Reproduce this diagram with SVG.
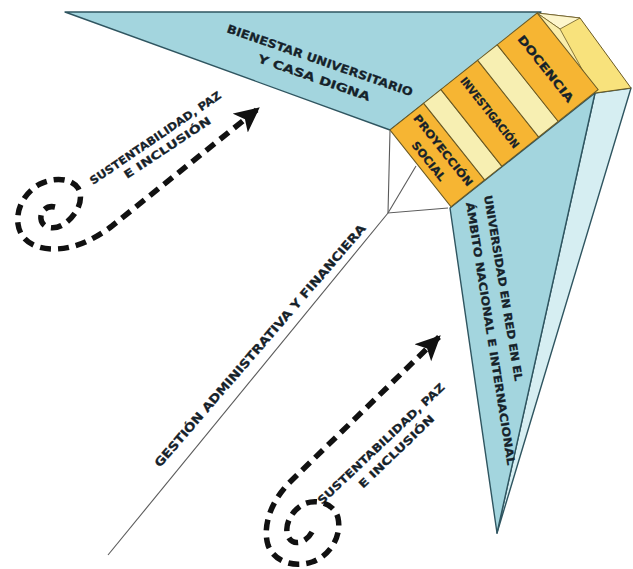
<svg xmlns="http://www.w3.org/2000/svg" width="633" height="569" viewBox="0 0 633 569">
<defs>
<style>
.lbl{font-family:"DejaVu Sans","Liberation Sans",sans-serif;font-weight:bold;fill:#16222a;stroke:#16222a;stroke-width:0.25;}
.blue{fill:#a3d5de;stroke:#2f5560;stroke-width:1.4;stroke-linejoin:round;}
.lblue{fill:#d6eef2;stroke:#2f5560;stroke-width:1.4;stroke-linejoin:round;}
.orange{fill:#f6b533;stroke:#6b5a24;stroke-width:1;}
.pale{fill:#f7efb2;stroke:#6b5a24;stroke-width:1;}
.thin{fill:none;stroke:#5a5a5a;stroke-width:1.1;}
.dash{fill:none;stroke:#111;stroke-width:5.5;stroke-dasharray:11 7;}
</style>
<marker id="ah" markerUnits="userSpaceOnUse" markerWidth="26" markerHeight="26" viewBox="0 0 26 26" refX="24" refY="13" orient="auto">
<path d="M0,1 L25,13 L0,25 L6,13 z" fill="#111"/>
</marker>
</defs>

<g id="bienestar">
<polygon class="blue" points="65,12 541,12 390,130"/>
<text class="lbl" font-size="11.5" transform="translate(226,32) rotate(19.2)" textLength="196" lengthAdjust="spacingAndGlyphs">BIENESTAR UNIVERSITARIO</text>
<text class="lbl" font-size="11.5" transform="translate(257,62) rotate(19.3)" textLength="118" lengthAdjust="spacingAndGlyphs">Y CASA DIGNA</text>
</g>

<g id="universidad-red">
<polygon class="lblue" points="595,93 631,88 497,533"/>
<polygon class="blue" points="450,208 595,93 497,533"/>
<text class="lbl" font-size="11" transform="translate(484,196) rotate(80.5)" textLength="188" lengthAdjust="spacingAndGlyphs">UNIVERSIDAD EN RED EN EL</text>
<text class="lbl" font-size="11" transform="translate(466,203) rotate(81)" textLength="266" lengthAdjust="spacingAndGlyphs">ÁMBITO NACIONAL E INTERNACIONAL</text>
</g>

<g id="gestion">
<polyline class="thin" points="390,131 388,213 448,208"/>
<line class="thin" x1="416" y1="166" x2="388" y2="213"/>
<line class="thin" x1="388" y1="213" x2="108" y2="555"/>
<text class="lbl" font-size="12" transform="translate(160,468) rotate(-49.2)" textLength="316" lengthAdjust="spacingAndGlyphs">GESTIÓN ADMINISTRATIVA Y FINANCIERA</text>
</g>

<g id="band-end">
<polygon points="537,13 580,18 631,88 595,93" fill="#f8e27c" stroke="#6b5a24" stroke-width="1"/>
<polygon points="537,13 580,18 560,29" fill="#fdf6cc" stroke="#6b5a24" stroke-width="0.8"/>
<polygon points="537,13 560,29 595,93" fill="#faeeaa" stroke="#6b5a24" stroke-width="0.8"/>
</g>

<g transform="translate(390,130) rotate(-38.5)">
<g id="proyeccion">
<rect class="orange" x="0" y="0" width="43" height="98"/>
<text class="lbl" font-size="11" transform="translate(25,5) rotate(90)" textLength="88" lengthAdjust="spacingAndGlyphs">PROYECCIÓN</text>
<text class="lbl" font-size="11" transform="translate(7,25) rotate(90)" textLength="47" lengthAdjust="spacingAndGlyphs">SOCIAL</text>
</g>
<rect class="pale" x="43" y="0" width="22" height="98"/>
<g id="investigacion">
<rect class="orange" x="65" y="0" width="47" height="98"/>
<text class="lbl" font-size="11" transform="translate(85,5) rotate(90)" textLength="87" lengthAdjust="spacingAndGlyphs">INVESTIGACIÓN</text>
</g>
<rect class="pale" x="112" y="0" width="25" height="98"/>
<g id="docencia">
<rect class="orange" x="137" y="0" width="51" height="98"/>
<text class="lbl" font-size="11.5" transform="translate(156,8) rotate(90)" textLength="82" lengthAdjust="spacingAndGlyphs">DOCENCIA</text>
</g>
</g>

<g id="sustentabilidad-1">
<text class="lbl" font-size="11" transform="translate(93,185) rotate(-34.2)" textLength="156" lengthAdjust="spacingAndGlyphs">SUSTENTABILIDAD, PAZ</text>
<text class="lbl" font-size="11" transform="translate(127,179) rotate(-33.5)" textLength="102" lengthAdjust="spacingAndGlyphs">E INCLUSIÓN</text>
</g>

<g id="sustentabilidad-2">
<text class="lbl" font-size="11" transform="translate(322,505) rotate(-43.4)" textLength="170" lengthAdjust="spacingAndGlyphs">SUSTENTABILIDAD, PAZ</text>
<text class="lbl" font-size="11" transform="translate(363,489) rotate(-43.8)" textLength="100" lengthAdjust="spacingAndGlyphs">E INCLUSIÓN</text>
</g>

<g id="connectors">
<path class="dash" marker-end="url(#ah)" d="M55,207 C46,205 40,212 41,219 C42,228 54,231 64,224 C76,216 85,200 78,188 C71,178 54,177 40,184 C25,192 16,208 18,224 C20,240 34,249 54,249 C76,249 96,238 112,226 L259,108"/>
<path class="dash" marker-end="url(#ah)" d="M312,532 C306,543 294,546 289,538 C283,528 290,512 302,505 C314,498 334,502 338,518 C342,536 330,556 312,562 C294,568 274,562 268,545 C262,525 272,500 290,482 L440,336"/>
</g>
</svg>
